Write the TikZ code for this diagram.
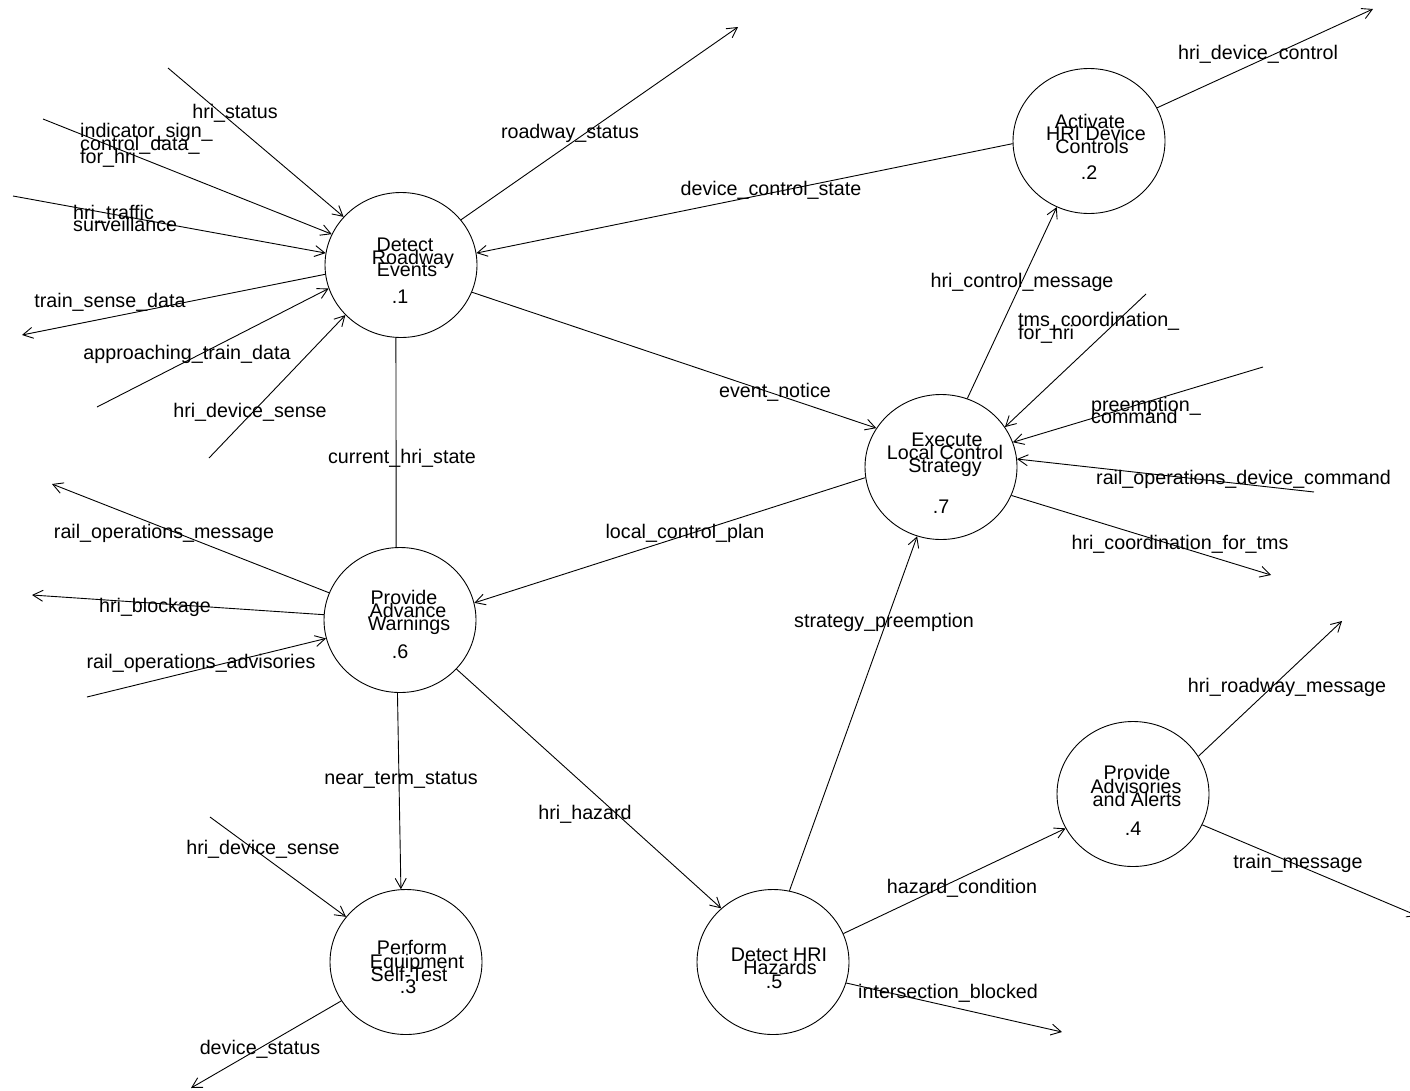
\documentclass[tikz,border=0pt]{standalone}
\usepackage{fontspec}
\setmainfont{Liberation Sans}
\usetikzlibrary{shapes.geometric,arrows.meta}
\begin{document}
\begin{tikzpicture}[x=1pt,y=-1pt,
  proc/.style={draw,ellipse,line width=0.9pt,minimum width=152pt,minimum height=145pt,inner sep=0pt},
  flow/.style={line width=0.9pt},
  into/.style={flow,-{Straight Barb[length=10pt,width=11pt,line width=0.9pt]}},
  txt/.style={font=\fontsize{19.7pt}{13pt}\selectfont,inner sep=0pt,anchor=base},
  txtl/.style={txt,anchor=base west}]
\useasboundingbox (0,0) rectangle (1410,1090);
\fill[white] (0,0) rectangle (1410,1090);

% processes
\node[proc] (p1) at (401,265) {};
\node[proc] (p2) at (1089,141) {};
\node[proc] (p3) at (406,962) {};
\node[proc] (p4) at (1133,794) {};
\node[proc] (p5) at (773,962) {};
\node[proc] (p6) at (400,620) {};
\node[proc] (p7) at (941,467) {};

% process titles and numbers
\node[txt] (p1a) at (405,251) {Detect};
\node[txt] (p1b) at (413,264) {Roadway};
\node[txt] (p1c) at (407,276) {Events};
\node[txt] (p1n) at (400,303) {.1};

\node[txt] (p2a) at (1090,128) {Activate};
\node[txt] (p2b) at (1096,140) {HRI Device};
\node[txt] (p2c) at (1092,153) {Controls};
\node[txt] (p2n) at (1089,179) {.2};

\node[txt] (p7a) at (947,446) {Execute};
\node[txt] (p7b) at (945,459) {Local Control};
\node[txt] (p7c) at (945,472) {Strategy};
\node[txt] (p7n) at (941,513) {.7};

\node[txt] (p6a) at (404,604) {Provide};
\node[txt] (p6b) at (408,617) {Advance};
\node[txt] (p6c) at (409,630) {Warnings};
\node[txt] (p6n) at (400,658) {.6};

\node[txt] (p3a) at (412,954) {Perform};
\node[txt] (p3b) at (417,968) {Equipment};
\node[txt] (p3c) at (409,981) {Self-Test};
\node[txt] (p3n) at (408,993) {.3};

\node[txt] (p5a) at (779,961) {Detect HRI};
\node[txt] (p5b) at (780,974) {Hazards};
\node[txt] (p5n) at (774,988) {.5};

\node[txt] (p4a) at (1137,779) {Provide};
\node[txt] (p4b) at (1136,793) {Advisories};
\node[txt] (p4c) at (1137,806) {and Alerts};
\node[txt] (p4n) at (1133,835) {.4};

% free ends of flows
\coordinate (e-hs) at (168,68);
\coordinate (e-ind) at (43,119);
\coordinate (e-traf) at (13,196);
\coordinate (e-tsd) at (22,335);
\coordinate (e-atd) at (97,407);
\coordinate (e-hds) at (209,458);
\coordinate (e-rs) at (738,27);
\coordinate (e-hdc) at (1373,9);
\coordinate (e-tms) at (1146,294);
\coordinate (e-pre) at (1263,367);
\coordinate (e-rodc) at (1314,492);
\coordinate (e-hcft) at (1271,575);
\coordinate (e-rom) at (52,484);
\coordinate (e-hb) at (32,595);
\coordinate (e-roa) at (87,697);
\coordinate (e-hds2) at (210,817);
\coordinate (e-ds) at (191,1088);
\coordinate (e-ib) at (1062,1032);
\coordinate (e-hrm) at (1342,621);
\coordinate (e-tm) at (1418,916);

% flows
\draw[into] (e-hs) -- (p1.140);
\draw[into] (e-ind) -- (p1.156);
\draw[into] (e-traf) -- (p1.171);
\draw[into] (p1.187) -- (e-tsd);
\draw[into] (e-atd) -- (p1.198);
\draw[into] (e-hds) -- (p1.222);
\draw[into] (p1.37) -- (e-rs);
\draw[into] (p2.182) -- (p1.9);
\draw[into] (p1.339) -- (p7.149);
\draw[flow] (p1.266) -- (p6.93);
\draw[into] (p2.26) -- (e-hdc);
\draw[into] (p7.69) -- (p2.244);
\draw[into] (e-tms) -- (p7.32);
\draw[into] (e-pre) -- (p7.19);
\draw[into] (e-rodc) -- (p7.6);
\draw[into] (p7.338) -- (e-hcft);
\draw[into] (p7.188) -- (p6.13);
\draw[into] (p5.77) -- (p7.251);
\draw[into] (p6.159) -- (e-rom);
\draw[into] (p6.176) -- (e-hb);
\draw[into] (e-roa) -- (p6.194);
\draw[into] (p6.268) -- (p3.94);
\draw[into] (p6.319) -- (p5.134);
\draw[into] (e-hds2) -- (p3.143);
\draw[into] (p3.211) -- (e-ds);
\draw[into] (p5.22) -- (p4.207);
\draw[into] (p5.344) -- (e-ib);
\draw[into] (p4.30) -- (e-hrm);
\draw[into] (p4.336) -- (e-tm);

% flow labels
\node[txt] (l-hs) at (235,118) {hri\_status};
\node[txtl] (l-ind1) at (80,137) {indicator\_sign\_};
\node[txtl] (l-ind2) at (80,150) {control\_data\_};
\node[txtl] (l-ind3) at (80,163) {for\_hri};
\node[txtl] (l-traf1) at (73,219) {hri\_traffic};
\node[txtl] (l-traf2) at (73,231) {surveillance};
\node[txt] (l-tsd) at (110,307) {train\_sense\_data};
\node[txt] (l-atd) at (187,359) {approaching\_train\_data};
\node[txt] (l-hds) at (250,417) {hri\_device\_sense};
\node[txt] (l-chs) at (402,463) {current\_hri\_state};
\node[txt] (l-rs) at (570,138) {roadway\_status};
\node[txt] (l-dcs) at (771,195) {device\_control\_state};
\node[txt] (l-en) at (775,397) {event\_notice};
\node[txt] (l-hdc) at (1258,59) {hri\_device\_control};
\node[txt] (l-hcm) at (1022,287) {hri\_control\_message};
\node[txtl] (l-tms1) at (1018,326) {tms\_coordination\_};
\node[txtl] (l-tms2) at (1018,339) {for\_hri};
\node[txtl] (l-pre1) at (1091,411) {preemption\_};
\node[txtl] (l-pre2) at (1091,423) {command};
\node[txtl] (l-rodc) at (1096,484) {rail\_operations\_device\_command};
\node[txt] (l-hcft) at (1180,549) {hri\_coordination\_for\_tms};
\node[txt] (l-lcp) at (685,538) {local\_control\_plan};
\node[txt] (l-sp) at (884,627) {strategy\_preemption};
\node[txt] (l-rom) at (164,538) {rail\_operations\_message};
\node[txt] (l-hb) at (155,612) {hri\_blockage};
\node[txt] (l-roa) at (201,668) {rail\_operations\_advisories};
\node[txt] (l-nts) at (401,784) {near\_term\_status};
\node[txt] (l-hh) at (585,819) {hri\_hazard};
\node[txt] (l-hds2) at (263,854) {hri\_device\_sense};
\node[txt] (l-ds) at (260,1054) {device\_status};
\node[txt] (l-hc) at (962,893) {hazard\_condition};
\node[txt] (l-ib) at (948,998) {intersection\_blocked};
\node[txt] (l-hrm) at (1287,692) {hri\_roadway\_message};
\node[txt] (l-tm) at (1298,868) {train\_message};
\end{tikzpicture}
\end{document}
